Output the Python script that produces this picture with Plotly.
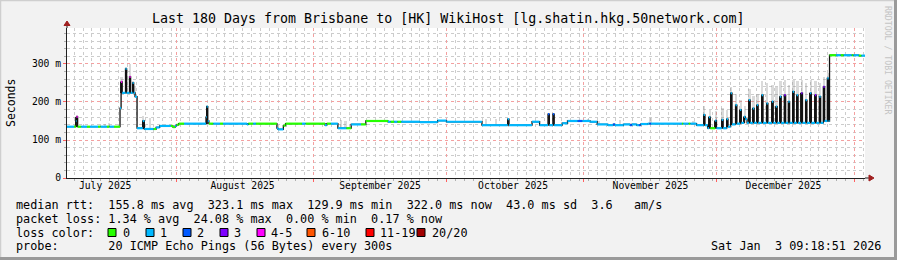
import plotly.graph_objects as go
import pandas as pd

# ---------------- data ----------------
START = pd.Timestamp("2025-07-07 09:18:51")
END = pd.Timestamp("2026-01-03 09:18:51")

# median RTT (ms) as a step series: day offset from START, value, loss bin index
med_day = [
    0.00, 1.60, 2.00, 2.15, 2.40, 3.20, 4.50, 5.20, 7.00, 7.60, 9.00, 9.60, 10.60,
    11.96, 12.20, 12.45, 13.20, 13.45, 14.10, 14.35, 14.80, 15.05, 15.35, 15.80,
    17.10, 17.45, 19.50, 20.10, 20.90, 23.40, 23.90, 24.40, 24.70, 25.20,
    26.40, 31.35, 31.50, 31.75, 32.00, 33.00, 34.50, 35.20, 40.60, 40.90, 42.00,
    42.60, 47.35, 47.60, 48.80, 49.30, 53.00, 53.80, 58.20, 58.60, 59.50,
    61.10, 63.00, 64.10, 66.30, 67.40, 72.40, 73.00, 73.80, 74.50, 75.40, 79.60,
    83.60, 85.60,
    93.60, 99.40, 99.70, 104.90, 106.60, 108.50, 108.80, 109.60, 109.90, 111.70,
    112.90, 115.20, 116.20, 118.00, 119.60,
    122.00, 123.20, 123.60, 125.50, 127.00, 127.40, 128.50, 129.00, 129.40, 131.00,
    131.40, 131.70, 138.70, 139.00, 140.20, 140.60,
    142.00, 143.60, 143.90, 144.50, 144.80, 145.10, 146.20, 146.50, 147.70, 148.00,
    148.80, 149.10, 149.70, 150.00, 150.80, 151.10, 151.80, 152.10, 152.70, 153.00,
    153.40, 153.80, 154.10, 154.70, 155.00, 155.60, 155.90, 156.70, 157.00, 157.80,
    158.10, 159.00, 159.30, 159.90, 160.20, 160.80, 161.10, 161.80, 162.10, 162.70,
    163.00, 163.70, 164.00, 164.60, 164.90, 165.60, 165.90, 166.60, 166.90, 167.60,
    167.90, 168.70, 169.00, 169.70, 170.00, 170.60, 170.90, 171.50, 171.80,
    172.00, 173.50, 174.50, 175.20, 177.00, 177.40, 178.60, 179.20,
]
med_ms = [
    135, 135, 150, 161, 135, 135, 135, 135, 135, 135, 135, 135, 135,
    184, 253, 224, 287, 224, 266, 224, 250, 224, 214, 131,
    150, 129, 129, 133, 137, 137, 134, 137, 140, 143,
    143, 160, 188, 150, 143, 143, 143, 143, 141, 143, 143,
    143, 131, 128, 138, 143, 143, 143, 139, 143, 143,
    131, 131, 141, 141, 150, 148, 148, 148, 148, 148, 147,
    151, 148,
    139, 155, 139, 148, 139, 168, 139, 168, 139, 144,
    150, 150, 150, 148, 141,
    139, 141, 139, 141, 139, 141, 139, 139, 142, 143,
    143, 143, 143, 143, 143, 143,
    139, 166, 139, 131, 160, 131, 151, 131, 153, 131,
    155, 135, 223, 141, 192, 143, 179, 145, 161, 155,
    145, 205, 145, 183, 145, 192, 145, 218, 145, 196,
    145, 201, 145, 188, 145, 214, 145, 218, 145, 201,
    145, 227, 145, 218, 145, 223, 145, 205, 145, 223,
    145, 218, 145, 214, 145, 240, 150, 262, 150,
    323, 323, 323, 323, 323, 323, 322, 322,
]
med_loss = [
    1, 0, 1, 4, 0, 1, 0, 1, 0, 1, 0, 1, 0,
    1, 4, 1, 1, 1, 4, 1, 1, 1, 1, 1,
    1, 1, 0, 1, 1, 0, 0, 1, 0, 0,
    1, 1, 1, 1, 0, 1, 0, 1, 1, 0, 1,
    0, 1, 1, 0, 0, 1, 0, 1, 0, 1,
    1, 0, 1, 0, 0, 1, 0, 1, 0, 1, 1,
    1, 1,
    1, 1, 1, 1, 1, 2, 1, 2, 1, 1,
    1, 2, 1, 1, 1,
    1, 2, 1, 1, 2, 1, 1, 2, 1, 1,
    2, 1, 0, 1, 0, 1,
    1, 1, 1, 1, 1, 0, 1, 1, 1, 1,
    1, 1, 1, 1, 1, 1, 1, 1, 1, 1,
    1, 1, 1, 1, 1, 1, 1, 1, 1, 1,
    1, 1, 1, 1, 1, 1, 1, 3, 1, 1,
    1, 1, 1, 1, 1, 3, 1, 1, 1, 1,
    1, 3, 1, 1, 1, 3, 1, 1, 1,
    0, 1, 0, 1, 0, 1, 0, 1,
]

# smoke (spread of individual pings): day, low ms, dense-core top ms, outer top ms
smoke_day = [
    2.2, 8.5, 9.5, 12.3, 13.3, 14.2, 14.9, 15.3, 17.2, 18.8, 31.6, 61.8, 62.8,
    94.5, 96.8, 117.5, 120.0, 124.8, 131.6, 141.3,
    143.75, 144.95, 146.35, 147.85, 148.95, 149.85, 150.95, 151.95, 152.85, 153.95,
    154.85, 155.75, 156.85, 157.95, 159.15, 160.05, 160.95, 161.95, 162.85, 163.85,
    164.75, 165.75, 166.75, 167.75, 168.85, 169.85, 170.75, 171.65,
]
smoke_lo = [
    135, 135, 135, 224, 224, 224, 224, 214, 129, 129, 143, 131, 131,
    139, 139, 148, 141, 141, 143, 143,
    139, 131, 131, 131, 135, 141, 143, 145, 145, 145,
    145, 145, 145, 145, 145, 145, 145, 145, 145, 145,
    145, 145, 145, 145, 145, 145, 150, 150,
]
smoke_core = [
    161, 135, 135, 253, 287, 266, 250, 214, 150, 129, 188, 131, 131,
    139, 139, 148, 141, 141, 143, 143,
    166, 160, 151, 153, 155, 223, 192, 179, 161, 205,
    183, 192, 218, 196, 201, 188, 214, 218, 201, 227,
    218, 223, 205, 223, 218, 214, 240, 262,
]
smoke_hi = [
    165, 143, 144, 265, 292, 300, 255, 240, 163, 158, 192, 153, 150,
    155, 155, 155, 150, 152, 158, 150,
    190, 178, 175, 185, 180, 240, 220, 205, 190, 235,
    215, 220, 255, 250, 245, 240, 255, 258, 245, 258,
    255, 258, 250, 258, 255, 250, 265, 275,
]

loss_labels = ["0", "1", "2", "3", "4-5", "6-10", "11-19", "20/20"]
loss_colors = ["#26ff00", "#00b8ff", "#0059ff", "#7e00ff", "#ff00ff",
               "#ff5500", "#ff0000", "#a10000"]

month_starts = ["2025-08-01", "2025-09-01", "2025-10-01", "2025-11-01",
                "2025-12-01", "2026-01-01"]
month_label_at = ["2025-07-16", "2025-08-16", "2025-09-16", "2025-10-16",
                  "2025-11-16", "2025-12-16"]
month_labels = ["July 2025", "August 2025", "September 2025", "October 2025",
                "November 2025", "December 2025"]

y_tickvals = [0, 100, 200, 300]
y_ticktext = ["0", "100 m", "200 m", "300 m"]

title_text = "Last 180 Days from Brisbane to [HK] WikiHost [lg.shatin.hkg.50network.com]"
line_rtt = "median rtt:  155.8 ms avg  323.1 ms max  129.9 ms min  322.0 ms now  43.0 ms sd  3.6   am/s"
line_loss = "packet loss: 1.34 % avg  24.08 % max  0.00 % min  0.17 % now"
line_color = "loss color:"
line_probe = "probe:       20 ICMP Echo Pings (56 Bytes) every 300s"
stamp = "Sat Jan  3 09:18:51 2026"

# ---------------- layout helpers (pixel -> paper) ----------------
W, H = 897, 260
PL, PR, PT, PB = 67, 865, 28, 178
def PX(x):
    return (x - PL) / (PR - PL)
def PY(y):
    return (PB - y) / (PB - PT)
def nb(s):
    return s.replace(" ", "\u00a0")

MONO = "DejaVu Sans Mono"
LEG = 11.8

t = [START + pd.Timedelta(days=d) for d in med_day]
t_end = t[1:] + [END]
ts = [START + pd.Timedelta(days=d) for d in smoke_day]

fig = go.Figure()

# smoke: outer light band
fig.add_trace(go.Bar(
    x=ts, y=[h - l for h, l in zip(smoke_hi, smoke_lo)], base=smoke_lo,
    width=0.5 * 86400000,
    marker=dict(color="rgba(140,140,140,0.32)", line=dict(width=0)),
    showlegend=False, hoverinfo="skip",
))
# smoke: dense dark core
fig.add_trace(go.Bar(
    x=ts, y=[c - l for c, l in zip(smoke_core, smoke_lo)], base=smoke_lo,
    width=0.38 * 86400000,
    marker=dict(color="#2a2a2a", line=dict(width=0)),
    showlegend=False, hoverinfo="skip",
))

# median black step line
fig.add_trace(go.Scatter(
    x=t + [END], y=med_ms + [med_ms[-1]],
    mode="lines", line=dict(color="#111111", width=1.3, shape="hv"),
    showlegend=False, hoverinfo="skip",
))

# loss-coloured median segments
for k, col in enumerate(loss_colors):
    xs, ys = [], []
    for a, b, v, l in zip(t, t_end, med_ms, med_loss):
        if l == k:
            xs += [a, b, None]
            ys += [v, v, None]
    if xs:
        fig.add_trace(go.Scatter(
            x=xs, y=ys, mode="lines",
            line=dict(color=col, width=2.2),
            showlegend=False, hoverinfo="skip",
        ))

# invisible trace to carry the month-label axis
fig.add_trace(go.Scatter(x=[START, END], y=[0, 0], mode="none", xaxis="x2",
                         showlegend=False, hoverinfo="skip"))

grid_major = "#f4a0a0"
grid_minor = "#cccccc"

fig.update_layout(
    width=W, height=H,
    margin=dict(l=PL, r=W - PR, t=PT, b=H - PB),
    paper_bgcolor="#f2f2f2", plot_bgcolor="#ffffff",
    barmode="overlay", bargap=0,
    font=dict(family=MONO, color="#000000"),
    xaxis=dict(
        type="date", range=[START, END],
        tickvals=month_starts, showticklabels=False,
        ticks="outside", ticklen=3, tickcolor="#ff6060",
        showgrid=True, gridcolor=grid_major, griddash="dot", gridwidth=1,
        minor=dict(dtick=2 * 86400000, tick0="2025-09-01", showgrid=True,
                   gridcolor=grid_minor, griddash="dot", gridwidth=1, ticks="outside",
                   ticklen=2, tickcolor="#b0b0b0"),
        showline=True, linecolor="#202020", linewidth=1, zeroline=False,
        layer="below traces",
    ),
    xaxis2=dict(
        type="date", range=[START, END], overlaying="x", anchor="y", side="bottom",
        tickvals=month_label_at, ticktext=month_labels, ticks="",
        showgrid=False, showline=False, zeroline=False,
        tickfont=dict(family=MONO, size=9.7, color="#000000"),
    ),
    yaxis=dict(
        range=[0, 394.7], tickvals=y_tickvals, ticktext=y_ticktext,
        ticks="outside", ticklen=3, tickcolor="#ff6060",
        showgrid=True, gridcolor=grid_major, griddash="dot", gridwidth=1,
        minor=dict(dtick=20, showgrid=True, gridcolor=grid_minor, gridwidth=1,
                   griddash="dot", ticks="outside", ticklen=2, tickcolor="#b0b0b0"),
        showline=True, linecolor="#202020", linewidth=1, zeroline=False,
        tickfont=dict(family=MONO, size=9.7, color="#000000"),
    ),
)

ann = []
ann.append(dict(text=nb(title_text), x=PX(448), y=PY(19), xref="paper", yref="paper",
                xanchor="center", yanchor="middle", showarrow=False,
                font=dict(family=MONO, size=13.3, color="#000000")))
ann.append(dict(text="Seconds", x=PX(11), y=PY(103), xref="paper", yref="paper",
                xanchor="center", yanchor="middle", showarrow=False, textangle=-90,
                font=dict(family=MONO, size=11.5, color="#000000")))
ann.append(dict(text=nb("RRDTOOL / TOBI OETIKER"), x=PX(888), y=PY(60), xref="paper",
                yref="paper", xanchor="center", yanchor="middle", showarrow=False,
                textangle=90, font=dict(family=MONO, size=8.2, color="#c4c4c4")))
for txt, yy in [(line_rtt, 204.5), (line_loss, 218.5), (line_color, 232.5), (line_probe, 246.5)]:
    ann.append(dict(text=nb(txt), x=PX(14), y=PY(yy), xref="paper", yref="paper",
                    xanchor="left", yanchor="middle", showarrow=False,
                    font=dict(family=MONO, size=LEG, color="#000000")))
ann.append(dict(text=nb(stamp), x=PX(883), y=PY(246.5), xref="paper", yref="paper",
                xanchor="right", yanchor="middle", showarrow=False,
                font=dict(family=MONO, size=LEG, color="#000000")))

shapes = []
sq_x = [108, 146, 183, 220, 257, 307, 366, 417]
lab_x = [121, 158, 195, 232, 269, 320, 378, 430]
for x0, lx, lab, col in zip(sq_x, lab_x, loss_labels, loss_colors):
    shapes.append(dict(type="rect", xref="paper", yref="paper",
                       x0=PX(x0), x1=PX(x0 + 8), y0=PY(236.5), y1=PY(228.5),
                       fillcolor=col, line=dict(color="#000000", width=1)))
    ann.append(dict(text=nb(lab), x=PX(lx), y=PY(232.5), xref="paper", yref="paper",
                    xanchor="left", yanchor="middle", showarrow=False,
                    font=dict(family=MONO, size=LEG, color="#000000")))

# axis extensions + arrows
arrow_col = "#a02020"
shapes.append(dict(type="line", xref="paper", yref="paper", x0=PX(865), x1=PX(870),
                   y0=0, y1=0, line=dict(color="#202020", width=1)))
shapes.append(dict(type="path", xref="paper", yref="paper",
                   path=f"M {PX(869)} {PY(175)} L {PX(874)} {PY(178)} L {PX(869)} {PY(181)} Z",
                   fillcolor=arrow_col, line=dict(color=arrow_col, width=1)))
shapes.append(dict(type="line", xref="paper", yref="paper", x0=0, x1=0,
                   y0=1, y1=PY(24), line=dict(color="#202020", width=1)))
shapes.append(dict(type="path", xref="paper", yref="paper",
                   path=f"M {PX(64)} {PY(25.5)} L {PX(67)} {PY(21)} L {PX(70)} {PY(25.5)} Z",
                   fillcolor=arrow_col, line=dict(color=arrow_col, width=1)))
# canvas frame (3D shade)
shapes.append(dict(type="line", xref="paper", yref="paper", x0=PX(0), x1=PX(W),
                   y0=PY(0.5), y1=PY(0.5), line=dict(color="#cfcfcf", width=1.5)))
shapes.append(dict(type="line", xref="paper", yref="paper", x0=PX(0.5), x1=PX(0.5),
                   y0=PY(0), y1=PY(H), line=dict(color="#cfcfcf", width=1.5)))
shapes.append(dict(type="line", xref="paper", yref="paper", x0=PX(0), x1=PX(W),
                   y0=PY(H - 1.5), y1=PY(H - 1.5), line=dict(color="#9a9a9a", width=3)))
shapes.append(dict(type="line", xref="paper", yref="paper", x0=PX(W - 1.5), x1=PX(W - 1.5),
                   y0=PY(0), y1=PY(H), line=dict(color="#9a9a9a", width=3)))

fig.update_layout(annotations=ann, shapes=shapes)

fig.write_html("out.html")
